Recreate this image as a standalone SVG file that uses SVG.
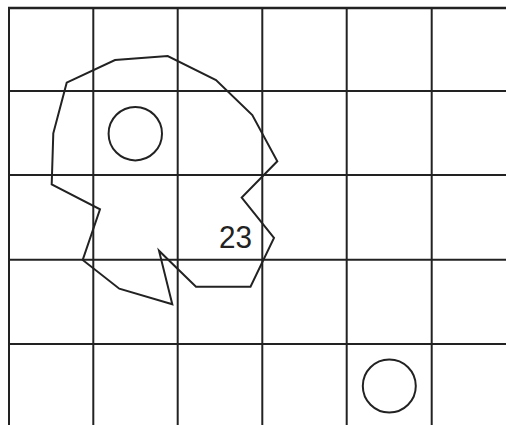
<svg xmlns="http://www.w3.org/2000/svg" width="506" height="425" viewBox="0 0 506 425">
<style>
.g{stroke:#222;stroke-width:2;fill:none}
.s{stroke:#222;stroke-width:2;fill:none;stroke-linejoin:miter}
.t{font-family:"Liberation Sans",Arial,sans-serif;font-size:31.5px;fill:#222}
</style>
<rect width="506" height="425" fill="#fff"/>
<g id="grid">
<line class="g" x1="8" y1="8" x2="506" y2="8" style="stroke-width:2.6"/>
<line class="g" x1="9" y1="91" x2="506" y2="91"/>
<line class="g" x1="9" y1="175" x2="506" y2="175"/>
<line class="g" x1="9" y1="259.7" x2="506" y2="259.7"/>
<line class="g" x1="9" y1="344" x2="506" y2="344"/>
<line class="g" x1="9" y1="7" x2="9" y2="425"/>
<line class="g" x1="93.3" y1="7" x2="93.3" y2="425"/>
<line class="g" x1="177.7" y1="7" x2="177.7" y2="425"/>
<line class="g" x1="262.3" y1="7" x2="262.3" y2="425"/>
<line class="g" x1="346.7" y1="7" x2="346.7" y2="425"/>
<line class="g" x1="431.7" y1="7" x2="431.7" y2="425"/>
</g>
<g id="region">
<polygon class="s" points="66.7,82.7 115,60 167.7,56 216,80 252.3,115 277.3,161.3 241.7,197.5 274,238 250.5,286.7 196,286.7 159,250.7 172.3,304.3 119.3,288.7 82.7,260 100,209.3 51.7,184.5 53.3,133.3"/>
<text class="t" x="219" y="247.7" textLength="33" lengthAdjust="spacingAndGlyphs">23</text>
</g>
<g id="circle1"><circle class="s" cx="135.3" cy="133.7" r="26.7"/></g>
<g id="circle2"><circle class="s" cx="389.3" cy="386" r="26.5"/></g>
</svg>
